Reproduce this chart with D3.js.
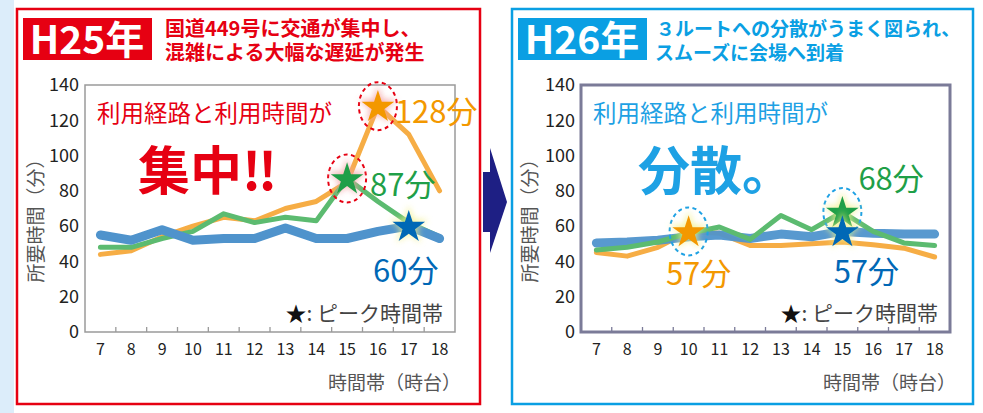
<!DOCTYPE html>
<html>
<head>
<meta charset="utf-8">
<script src="https://cdn.jsdelivr.net/npm/d3@7"></script>
<style>
  body { margin: 0; background: #fff; }
  svg { display: block; font-family: "Noto Sans CJK JP", "Noto Sans", sans-serif; }
</style>
</head>
<body>
<div id="chart"></div>
<script>
// hours on the x axis
const hours = [7, 8, 9, 10, 11, 12, 13, 14, 15, 16, 17, 18];
const yTicks = [0, 20, 40, 60, 80, 100, 120, 140];

// H25 (before)
const h25Orange = [44, 46, 54, 60, 65, 63, 70, 74, 85, 128, 112, 80];
const h25Green  = [48, 48, 53, 57, 67, 62, 65, 63, 87, 74, 62, 54];
const h25Blue   = [55, 52, 58, 52, 53, 53, 59, 53, 53, 57, 60, 53];

// H26 (after)
const h26Orange = [45, 43, 48, 57, 56, 49, 49, 50, 51, 49.5, 47.5, 42.5];
const h26Green  = [46.5, 48, 51, 56, 59.5, 52.5, 66, 58, 68, 57, 50.5, 49];
const h26Blue   = [50.5, 51, 52, 54, 55, 53, 55.5, 54, 57, 56, 55.5, 55.5];

const W = 983, H = 413;
const svg = d3.select("#chart").append("svg")
    .attr("width", W)
    .attr("height", H);

const defs = svg.append("defs");
defs.append("filter").attr("id", "glow")
    .attr("x", "-50%").attr("y", "-50%").attr("width", "200%").attr("height", "200%")
    .append("feGaussianBlur").attr("stdDeviation", 3);

// light blue strip on the left edge
svg.append("rect").attr("x", 0).attr("y", 0).attr("width", 14).attr("height", H).attr("fill", "#dcedfa");

const colors = {
    orange: "#f6ad45", green: "#5cbb70", blue: "#4f93cc",
    orangeStar: "#f39800", greenStar: "#1f9f48", blueStar: "#0068b6"
};

function drawPanel(opt) {
    const g = svg.append("g");

    // panel frame
    g.append("rect")
        .attr("x", opt.frame[0]).attr("y", opt.frame[1])
        .attr("width", opt.frame[2]).attr("height", opt.frame[3])
        .attr("fill", "#fff").attr("stroke", opt.accent).attr("stroke-width", 2.5);

    // year badge
    g.append("rect")
        .attr("x", opt.badgeX).attr("y", 18).attr("width", 129).attr("height", 42)
        .attr("fill", opt.accent);
    g.append("text")
        .attr("x", opt.badgeX + 64).attr("y", 54)
        .attr("text-anchor", "middle")
        .attr("fill", "#fff").attr("font-size", 39).attr("font-weight", "bold")
        .text(opt.year);

    // headline
    opt.headline.forEach((line, i) => {
        g.append("text")
            .attr("x", opt.headX[i]).attr("y", 36 + i * 24)
            .attr("fill", opt.accent).attr("font-size", opt.headSize).attr("font-weight", "bold")
            .text(line);
    });

    const x = d3.scaleBand().domain(hours).range([opt.left, opt.right]);
    const y = d3.scaleLinear().domain([0, 140]).range([332, 85]);
    const cx = h => x(h) + x.bandwidth() / 2;

    // plot frame
    g.append("rect")
        .attr("x", opt.left).attr("y", 85)
        .attr("width", opt.right - opt.left).attr("height", 332 - 85)
        .attr("fill", "none").attr("stroke", opt.plotStroke).attr("stroke-width", opt.plotStrokeW);

    // y axis labels
    const yAxis = g.append("g")
        .attr("transform", `translate(${opt.left},0)`)
        .call(d3.axisLeft(y).tickValues(yTicks).tickSize(0).tickPadding(6));
    yAxis.select(".domain").remove();
    yAxis.selectAll("text").attr("font-size", 18).attr("fill", "#222")
        .attr("font-family", "Noto Sans CJK JP");

    // x axis labels
    const xAxis = g.append("g")
        .attr("transform", "translate(0,332)")
        .call(d3.axisBottom(x).tickSize(0).tickPadding(12));
    xAxis.select(".domain").remove();
    xAxis.selectAll("text").attr("font-size", 16).attr("fill", "#222")
        .attr("font-family", "Noto Sans CJK JP");

    // small ticks between the hours
    g.selectAll(".btick")
        .data(hours.slice(0, -1))
        .enter().append("line")
        .attr("x1", h => x(h) + x.step()).attr("x2", h => x(h) + x.step())
        .attr("y1", 332).attr("y2", 327)
        .attr("stroke", opt.plotStroke).attr("stroke-width", 1.3);

    // axis titles
    g.append("text")
        .attr("transform", `translate(${opt.yTitleX},216) rotate(-90)`)
        .attr("text-anchor", "middle")
        .attr("fill", "#555").attr("font-size", 19)
        .text("所要時間（分）");
    g.append("text")
        .attr("x", opt.right + 6).attr("y", 390)
        .attr("text-anchor", "end")
        .attr("fill", "#555").attr("font-size", 19)
        .text("時間帯（時台）");

    // lines
    const line = d3.line().x((d, i) => cx(hours[i])).y(d => y(d));
    opt.series.forEach(s => {
        g.append("path")
            .datum(s.values)
            .attr("d", line)
            .attr("fill", "none")
            .attr("stroke", colors[s.color])
            .attr("stroke-width", s.color === "blue" ? 9 : 5)
            .attr("stroke-linejoin", "round")
            .attr("stroke-linecap", "round")
            .attr("opacity", s.opacity || 1);
    });

    // texts in the plot
    g.append("text")
        .attr("x", opt.left + 12).attr("y", 122)
        .attr("fill", opt.accentText).attr("font-size", 23.5)
        .text("利用経路と利用時間が");
    g.append("text")
        .attr("x", opt.bigX).attr("y", 190)
        .attr("fill", opt.accentText).attr("font-size", 52).attr("font-weight", "bold")
        .text(opt.big);

    // peak markers
    const star = d3.symbol().type(d3.symbolStar);
    opt.peaks.forEach(p => {
        const s = opt.series.find(d => d.color === p.color);
        const v = s.values[hours.indexOf(p.hour)];
        const px = cx(p.hour), py = y(v);
        if (p.ring) {
            g.append("ellipse")
                .attr("cx", px).attr("cy", py)
                .attr("rx", 19).attr("ry", 24)
                .attr("fill", "none").attr("stroke", opt.accentText)
                .attr("stroke-width", 2).attr("stroke-dasharray", "4,3.5");
        }
        g.append("path")
            .attr("d", star.size(480)())
            .attr("transform", `translate(${px},${py})`)
            .attr("fill", p.glow).attr("filter", "url(#glow)").attr("opacity", 0.8);
        g.append("path")
            .attr("d", star.size(330)())
            .attr("transform", `translate(${px},${py + 1})`)
            .attr("fill", colors[p.color + "Star"]);
        g.append("text")
            .attr("x", px + p.dx).attr("y", py + p.dy)
            .attr("text-anchor", p.anchor)
            .attr("fill", colors[p.color + "Star"])
            .attr("font-size", 31)
            .text(v + "分");
    });

    // legend
    const leg = g.append("text")
        .attr("x", opt.right - 12).attr("y", 321)
        .attr("text-anchor", "end")
        .attr("font-size", 21);
    leg.append("tspan").attr("fill", "#111").text("★");
    leg.append("tspan").attr("fill", "#444").text(": ピーク時間帯");
}

drawPanel({
    frame: [17, 9, 463, 395],
    accent: "#e60012",
    accentText: "#e60012",
    badgeX: 23,
    year: "H25年",
    headline: ["国道449号に交通が集中し、", "混雑による大幅な遅延が発生"],
    headX: [165, 165],
    headSize: 20,
    left: 85, right: 455,
    plotStroke: "#9a9a9a", plotStrokeW: 1.5,
    yTitleX: 43,
    big: "集中‼", bigX: 138,
    series: [
        { color: "orange", values: h25Orange },
        { color: "green", values: h25Green },
        { color: "blue", values: h25Blue }
    ],
    peaks: [
        { color: "orange", hour: 16, ring: true, glow: "#f4a0a0", dx: 17, dy: 17, anchor: "start" },
        { color: "green", hour: 15, ring: true, glow: "#f4a0a0", dx: 23, dy: 17, anchor: "start" },
        { color: "blue", hour: 17, ring: false, glow: "#f2f08a", dx: -3, dy: 56, anchor: "middle" }
    ]
});

drawPanel({
    frame: [512, 9, 461, 395],
    accent: "#0a9fe3",
    accentText: "#1ea1e4",
    badgeX: 518,
    year: "H26年",
    headline: ["３ルートへの分散がうまく図られ、", "スムーズに会場へ到着"],
    headX: [656, 655],
    headSize: 19,
    left: 581, right: 950,
    plotStroke: "#7b7b98", plotStrokeW: 3,
    yTitleX: 537,
    big: "分散。", bigX: 638,
    series: [
        { color: "orange", values: h26Orange },
        { color: "blue", values: h26Blue, opacity: 0.95 },
        { color: "green", values: h26Green }
    ],
    peaks: [
        { color: "orange", hour: 10, ring: true, glow: "#f2f08a", dx: 10, dy: 54, anchor: "middle" },
        { color: "green", hour: 15, ring: true, glow: "#f2f08a", dx: 16, dy: -22, anchor: "start" },
        { color: "blue", hour: 15, ring: false, glow: "#f2f08a", dx: 24, dy: 52, anchor: "middle" }
    ]
});

// arrow between the panels
svg.append("path")
    .attr("d", "M483,172 L490,172 L490,148 L507,202 L490,253 L490,232 L483,232 Z")
    .attr("fill", "#1e1f84");
</script>
</body>
</html>
